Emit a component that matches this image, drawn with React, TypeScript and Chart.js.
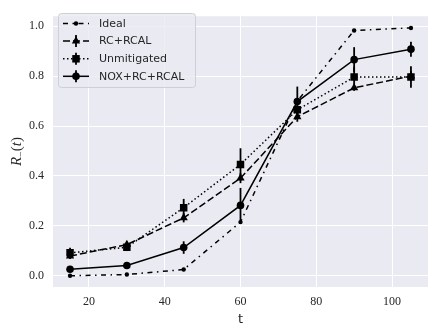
import React, { useEffect, useRef } from "react";
import { Chart, registerables } from "chart.js";

Chart.register(...registerables);

const tValues = [15, 30, 45, 60, 75, 90, 105];
const idealValues = [0.0, 0.005, 0.025, 0.215, 0.7, 0.983, 0.993];
const rcRcalValues = [0.079, 0.125, 0.232, 0.391, 0.637, 0.753, 0.8];
const unmitigatedValues = [0.092, 0.114, 0.273, 0.446, 0.665, 0.796, 0.796];
const noxValues = [0.026, 0.041, 0.113, 0.282, 0.698, 0.866, 0.908];
const idealErrors = [0, 0, 0, 0, 0, 0, 0];
const rcRcalErrors = [0.012, 0.012, 0.018, 0.02, 0.02, 0.012, 0.02];
const unmitigatedErrors = [0.02, 0.015, 0.035, 0.065, 0.03, 0.04, 0.043];
const noxErrors = [0.01, 0.008, 0.025, 0.07, 0.06, 0.05, 0.03];
const xTicks = [20, 40, 60, 80, 100];
const yTicks = [0.0, 0.2, 0.4, 0.6, 0.8, 1.0];
const seriesLabels = ["Ideal", "RC+RCAL", "Unmitigated", "NOX+RC+RCAL"];
const xTitle = "t";

const BG = "#EAEAF2";
const INK = "#000000";
const TEXT = "#262626";

function pairs(ys: number[]) {
  return tValues.map((x, i) => ({ x, y: ys[i] }));
}

const errorSets = [idealErrors, rcRcalErrors, unmitigatedErrors, noxErrors];

const bgPlugin = {
  id: "bgPlugin",
  beforeDraw(chart: any) {
    const { ctx, chartArea } = chart;
    ctx.save();
    ctx.fillStyle = "#ffffff";
    ctx.fillRect(0, 0, chart.width, chart.height);
    ctx.fillStyle = BG;
    ctx.fillRect(chartArea.left, chartArea.top, chartArea.right - chartArea.left, chartArea.bottom - chartArea.top);
    ctx.restore();
  },
};

const errorBarPlugin = {
  id: "errorBarPlugin",
  beforeDatasetsDraw(chart: any) {
    const { ctx, scales } = chart;
    const xs = scales.x;
    const ys = scales.y;
    ctx.save();
    ctx.strokeStyle = INK;
    ctx.lineWidth = 1.8;
    ctx.setLineDash([]);
    chart.data.datasets.forEach((ds: any, di: number) => {
      const errs = errorSets[di];
      ds.data.forEach((p: any, i: number) => {
        const e = errs[i];
        if (!e) return;
        const px = xs.getPixelForValue(p.x);
        ctx.beginPath();
        ctx.moveTo(px, ys.getPixelForValue(p.y - e));
        ctx.lineTo(px, ys.getPixelForValue(p.y + e));
        ctx.stroke();
      });
    });
    ctx.restore();
  },
};

const titlePlugin = {
  id: "titlePlugin",
  afterDraw(chart: any) {
    const { ctx, chartArea } = chart;
    ctx.save();
    ctx.fillStyle = TEXT;
    ctx.font = "13px 'DejaVu Sans'";
    ctx.textAlign = "center";
    ctx.textBaseline = "middle";
    ctx.fillText(xTitle, (chartArea.left + chartArea.right) / 2, 320);
    const cy = (chartArea.top + chartArea.bottom) / 2;
    ctx.translate(16, cy);
    ctx.rotate(-Math.PI / 2);
    const big = "15px 'Liberation Serif'";
    const bigIt = "italic 15px 'Liberation Serif'";
    const small = "10px 'Liberation Serif'";
    const parts = [
      { t: "R", f: bigIt, dy: 0 },
      { t: "\u2212", f: small, dy: 3 },
      { t: "(", f: big, dy: 0 },
      { t: "t", f: bigIt, dy: 0 },
      { t: ")", f: big, dy: 0 },
    ];
    let total = 0;
    const widths = parts.map((p) => {
      ctx.font = p.f;
      const w = ctx.measureText(p.t).width;
      total += w;
      return w;
    });
    let x = -total / 2;
    ctx.textAlign = "left";
    ctx.textBaseline = "alphabetic";
    parts.forEach((p, i) => {
      ctx.font = p.f;
      ctx.fillText(p.t, x, 5 + p.dy);
      x += widths[i];
    });
    ctx.restore();
  },
};

function drawMarker(ctx: CanvasRenderingContext2D, style: string, r: number, x: number, y: number) {
  ctx.beginPath();
  if (style === "circle") {
    ctx.arc(x, y, r, 0, Math.PI * 2);
  } else if (style === "rect") {
    const s = Math.SQRT1_2 * r;
    ctx.rect(x - s, y - s, 2 * s, 2 * s);
  } else if (style === "triangle") {
    let rad = 0;
    ctx.moveTo(x + Math.sin(rad) * r, y - Math.cos(rad) * r);
    rad += (2 * Math.PI) / 3;
    ctx.lineTo(x + Math.sin(rad) * r, y - Math.cos(rad) * r);
    rad += (2 * Math.PI) / 3;
    ctx.lineTo(x + Math.sin(rad) * r, y - Math.cos(rad) * r);
    ctx.closePath();
  }
  ctx.fill();
}

const legendPlugin = {
  id: "legendPlugin",
  afterDraw(chart: any) {
    const { ctx } = chart;
    const bx = 58.5, by = 13.5, bw = 137, bh = 74;
    ctx.save();
    ctx.beginPath();
    if (ctx.roundRect) ctx.roundRect(bx, by, bw, bh, 3);
    else ctx.rect(bx, by, bw, bh);
    ctx.fillStyle = "rgba(234,234,242,0.8)";
    ctx.fill();
    ctx.strokeStyle = "#cfcfd6";
    ctx.lineWidth = 1;
    ctx.stroke();
    const rows = [23.5, 41, 58.8, 76.3];
    chart.data.datasets.forEach((ds: any, i: number) => {
      const y = rows[i];
      ctx.save();
      ctx.strokeStyle = INK;
      ctx.lineWidth = ds.borderWidth;
      ctx.setLineDash(ds.borderDash || []);
      ctx.beginPath();
      ctx.moveTo(63, y);
      ctx.lineTo(89, y);
      ctx.stroke();
      ctx.restore();
      const e = errorSets[i];
      if (e.some((v) => v > 0)) {
        ctx.save();
        ctx.strokeStyle = INK;
        ctx.lineWidth = 1.8;
        ctx.beginPath();
        ctx.moveTo(76, y - 6);
        ctx.lineTo(76, y + 6);
        ctx.stroke();
        ctx.restore();
      }
      ctx.save();
      ctx.fillStyle = INK;
      drawMarker(ctx, ds.pointStyle, ds.pointRadius, 76, y);
      ctx.restore();
      ctx.fillStyle = TEXT;
      ctx.font = "11px 'DejaVu Sans'";
      ctx.textAlign = "left";
      ctx.textBaseline = "middle";
      ctx.fillText(ds.label, 99, y + 0.5);
    });
    ctx.restore();
  },
};

export default function App() {
  const ref = useRef<HTMLCanvasElement | null>(null);
  useEffect(() => {
    if (!ref.current) return;
    const common = {
      borderColor: INK,
      backgroundColor: INK,
      pointBackgroundColor: INK,
      pointBorderWidth: 0,
      borderWidth: 1.5,
      tension: 0,
      showLine: true,
      fill: false,
      borderCapStyle: "butt",
    };
    const chart = new Chart(ref.current, {
      type: "line",
      data: {
        datasets: [
          { ...common, label: seriesLabels[0], data: pairs(idealValues), borderDash: [5, 4.5, 1.5, 4.5], pointStyle: "circle", pointRadius: 2.2 },
          { ...common, label: seriesLabels[1], data: pairs(rcRcalValues), borderDash: [7, 3], pointStyle: "triangle", pointRadius: 4.8 },
          { ...common, label: seriesLabels[2], data: pairs(unmitigatedValues), borderDash: [1.5, 2.5], pointStyle: "rect", pointRadius: 5.3 },
          { ...common, label: seriesLabels[3], data: pairs(noxValues), borderDash: [], pointStyle: "circle", pointRadius: 3.8 },
        ] as any,
      },
      options: {
        responsive: false,
        animation: false,
        devicePixelRatio: 1,
        layout: { padding: { left: 0, top: 7, right: 8, bottom: 0 } },
        plugins: { legend: { display: false }, tooltip: { enabled: false } },
        elements: { point: { hoverRadius: 0 } },
        scales: {
          x: {
            type: "linear",
            min: 10.5,
            max: 109.5,
            afterBuildTicks: (s: any) => {
              s.ticks = xTicks.map((v) => ({ value: v }));
            },
            afterFit: (s: any) => {
              s.height = 47;
            },
            grid: { color: "#ffffff", lineWidth: 1, drawTicks: false },
            border: { display: false },
            ticks: {
              color: TEXT,
              padding: 8,
              font: { family: "'Liberation Serif'", size: 12 },
              callback: (v: any) => String(v),
            },
          },
          y: {
            type: "linear",
            min: -0.045,
            max: 1.04,
            afterBuildTicks: (s: any) => {
              s.ticks = yTicks.map((v) => ({ value: v }));
            },
            afterFit: (s: any) => {
              s.width = 53;
            },
            grid: { color: "#ffffff", lineWidth: 1, drawTicks: false },
            border: { display: false },
            ticks: {
              color: TEXT,
              padding: 9,
              font: { family: "'Liberation Serif'", size: 12 },
              callback: (v: any) => Number(v).toFixed(1),
            },
          },
        },
      } as any,
      plugins: [bgPlugin, errorBarPlugin, titlePlugin, legendPlugin],
    });
    return () => chart.destroy();
  }, []);
  return (
    <div style={{ position: "absolute", left: 0, top: 0, width: 436, height: 334, background: "#fff" }}>
      <canvas ref={ref} width={436} height={334} style={{ display: "block" }} />
    </div>
  );
}
